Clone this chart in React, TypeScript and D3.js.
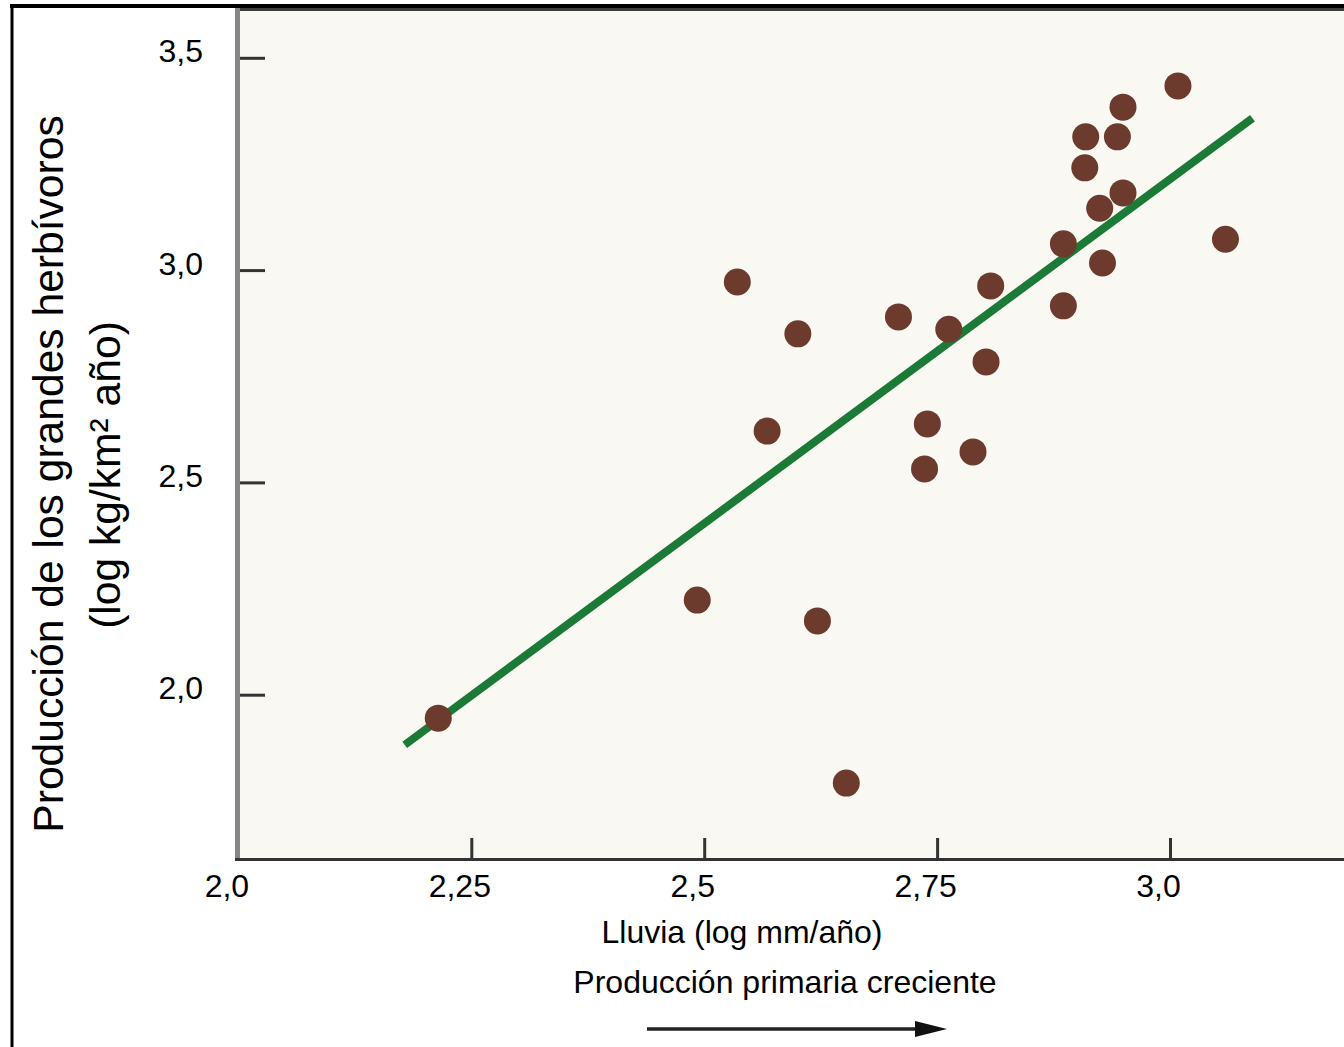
import { useMemo } from "react"
import * as d3 from "d3"

// lluvia (log mm/año) y producción de herbívoros (log kg/km² año)
const rainfall = [
    2.214, 2.492, 2.535, 2.567, 2.6, 2.621, 2.652, 2.708, 2.739, 2.736, 2.762, 2.788, 2.802,
    2.807, 2.885, 2.885, 2.908, 2.909, 2.927, 2.924, 2.943, 2.949, 2.949, 3.008, 3.059,
]
const production = [
    1.946, 2.224, 2.973, 2.622, 2.851, 2.175, 1.793, 2.891, 2.639, 2.533, 2.862, 2.573, 2.785,
    2.964, 2.917, 3.063, 3.242, 3.315, 3.018, 3.147, 3.315, 3.183, 3.385, 3.435, 3.074,
]
const trendX = [2.178, 3.088]
const trendY = [1.883, 3.359]

const xTickValues = [2.0, 2.25, 2.5, 2.75, 3.0]
const xTickLabels = ["2,0", "2,25", "2,5", "2,75", "3,0"]
const yTickValues = [2.0, 2.5, 3.0, 3.5]
const yTickLabels = ["2,0", "2,5", "3,0", "3,5"]

const xTitle = "Lluvia (log mm/año)"
const xSubtitle = "Producción primaria creciente"
const yTitle1 = "Producción de los grandes herbívoros"
const yTitle2 = "(log kg/km² año)"

export default function App() {
    const width = 1344
    const height = 1047
    const plot = { left: 238, top: 8, right: 1344, bottom: 860 }
    const font = "'Liberation Sans', Arial, Helvetica, sans-serif"

    const x = useMemo(() => d3.scaleLinear().domain([2.0, 3.0]).range([238.9, 1170.5]), [])
    const y = useMemo(() => d3.scaleLinear().domain([2.0, 3.5]).range([695.2, 58.3]), [])

    const trendPath =
        d3
            .line<number>()
            .x((d) => x(d))
            .y((_, i) => y(trendY[i]))(trendX) || ""

    const points = rainfall.map((r, i) => ({ r, p: production[i] }))

    return (
        <svg
            width={width}
            height={height}
            style={{ position: "absolute", left: 0, top: 0, background: "#fff" }}
            fontFamily={font}
        >
            {/* marco exterior */}
            <line x1={10} y1={6} x2={width} y2={6} stroke="#000" strokeWidth={4} />
            <line x1={12} y1={4} x2={12} y2={height} stroke="#000" strokeWidth={3} />

            <rect
                x={plot.left}
                y={plot.top}
                width={plot.right - plot.left}
                height={plot.bottom - plot.top}
                fill="#f9f8f3"
            />
            <line x1={plot.left} y1={9.5} x2={width} y2={9.5} stroke="#3c3c38" strokeWidth={3} />

            {/* eje y */}
            <line x1={237.5} y1={plot.top} x2={237.5} y2={plot.bottom} stroke="#858585" strokeWidth={5} />
            {yTickValues.map((v, i) => (
                <g key={v}>
                    <line x1={240} x2={265} y1={y(v)} y2={y(v)} stroke="#333" strokeWidth={3} />
                    <text x={203} y={y(v) + 4} textAnchor="end" fontSize={32} fill="#000">
                        {yTickLabels[i]}
                    </text>
                </g>
            ))}

            {/* eje x */}
            <line x1={235} y1={859.5} x2={width} y2={859.5} stroke="#333" strokeWidth={3} />
            {xTickValues.map((v, i) => (
                <g key={v}>
                    {i > 0 && (
                        <line x1={x(v)} x2={x(v)} y1={838} y2={859} stroke="#333" strokeWidth={3} />
                    )}
                    <text x={x(v) - 12} y={897} textAnchor="middle" fontSize={32} fill="#000">
                        {xTickLabels[i]}
                    </text>
                </g>
            ))}

            <text x={742} y={943} textAnchor="middle" fontSize={32} fill="#000">
                {xTitle}
            </text>
            <text x={785} y={993} textAnchor="middle" fontSize={32} fill="#000">
                {xSubtitle}
            </text>
            <line x1={647} y1={1029} x2={918} y2={1029} stroke="#222" strokeWidth={3.5} />
            <path d="M915,1021 L947,1029 L915,1037 Z" fill="#111" />

            <text transform="translate(63,474) rotate(-90)" textAnchor="middle" fontSize={42.6} fill="#000">
                {yTitle1}
            </text>
            <text transform="translate(120,475) rotate(-90)" textAnchor="middle" fontSize={42.6} fill="#000">
                {yTitle2}
            </text>

            {/* recta de regresión */}
            <path d={trendPath} fill="none" stroke="#1b7a35" strokeWidth={8} />

            {points.map((d, i) => (
                <circle key={i} cx={x(d.r)} cy={y(d.p)} r={13.5} fill="#6d3b2d" />
            ))}
        </svg>
    )
}
